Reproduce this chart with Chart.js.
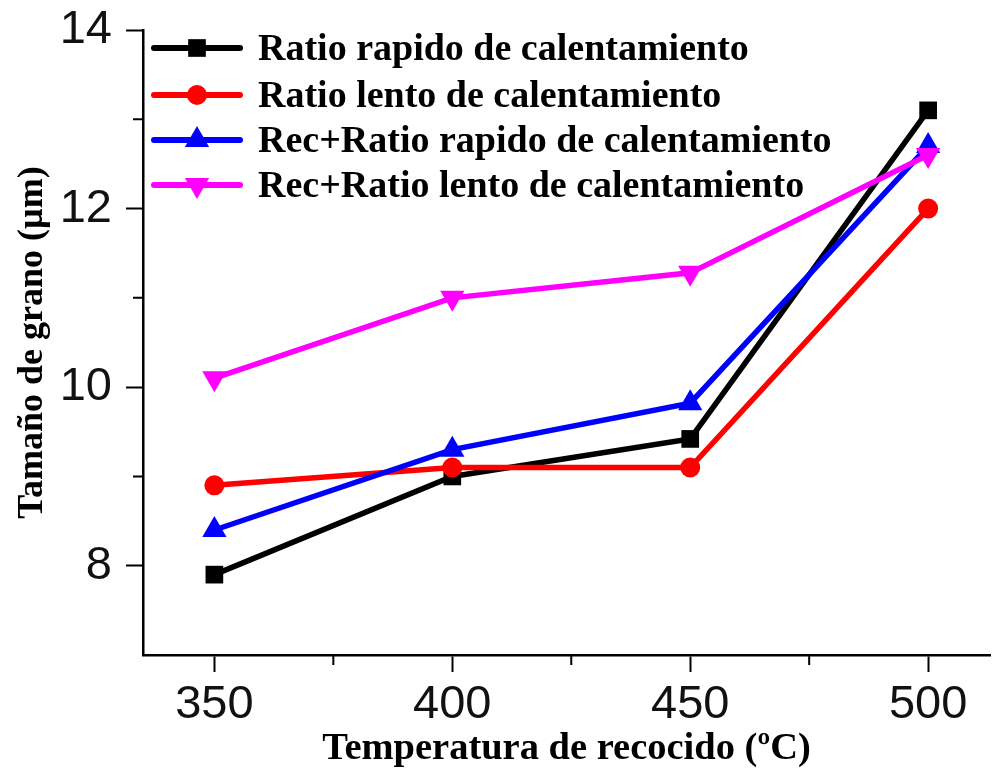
<!DOCTYPE html>
<html>
<head>
<meta charset="utf-8">
<script src="https://cdn.jsdelivr.net/npm/chart.js@4.4.0/dist/chart.umd.min.js"></script>
<style>
  html, body { margin: 0; padding: 0; background: #fff; }
  #chart { display: block; }
</style>
</head>
<body>
<canvas id="chart" width="992" height="774"></canvas>
<script>
"use strict";

// datos
const temps = [350, 400, 450, 500];
const rapido = [7.9, 9.0, 9.42, 13.1];
const lento = [8.9, 9.1, 9.1, 12.0];
const recRapido = [8.4, 9.3, 9.82, 12.7];
const recLento = [10.1, 11.0, 11.28, 12.6];

const seriesNames = [
    'Ratio rapido de calentamiento',
    'Ratio lento de calentamiento',
    'Rec+Ratio rapido de calentamiento',
    'Rec+Ratio lento de calentamiento'
];

const xTicks = [350, 400, 450, 500];
const xMinor = [375, 425, 475];
const yTicks = [8, 10, 12, 14];
const yMinor = [9, 11, 13];

const serif = '"Liberation Serif", "Times New Roman", serif';
const sans = '"Liberation Sans", Arial, sans-serif';

function pts(vals) {
    return temps.map(function (t, i) { return { x: t, y: vals[i] }; });
}

const styles = [
    { color: '#000000', pointStyle: 'rect', radius: 12.5, rotation: 0 },
    { color: '#ff0000', pointStyle: 'circle', radius: 10, rotation: 0 },
    { color: '#0000ff', pointStyle: 'triangle', radius: 14, rotation: 0 },
    { color: '#ff00ff', pointStyle: 'triangle', radius: 14, rotation: 180 }
];
const values = [rapido, lento, recRapido, recLento];

var datasets = values.map(function (v, i) {
    const s = styles[i];
    return {
        label: seriesNames[i],
        data: pts(v),
        borderColor: s.color,
        backgroundColor: s.color,
        borderWidth: 5.5,
        pointStyle: s.pointStyle,
        pointRadius: s.radius,
        pointRotation: s.rotation,
        pointBorderWidth: 0,
        pointBackgroundColor: s.color,
        order: values.length - i,
        tension: 0,
        clip: false
    };
});

// ticks menores + leyenda con linea y marcador
const extras = {
    id: 'extras',
    afterDraw: function (chart) {
        const ctx = chart.ctx;
        const xs = chart.scales.x, ys = chart.scales.y;
        ctx.save();
        ctx.strokeStyle = '#000';
        ctx.lineWidth = 2;
        ctx.beginPath();
        xMinor.forEach(function (v) {
            const px = xs.getPixelForValue(v);
            ctx.moveTo(px, xs.top);
            ctx.lineTo(px, xs.top + 10);
        });
        yMinor.forEach(function (v) {
            const py = ys.getPixelForValue(v);
            ctx.moveTo(ys.right, py);
            ctx.lineTo(ys.right - 10, py);
        });
        ctx.stroke();

        const rowY = [48, 95, 140, 185];
        ctx.font = 'bold 38px ' + serif;
        ctx.textBaseline = 'middle';
        ctx.textAlign = 'left';
        datasets.forEach(function (d, i) {
            const s = styles[i];
            const y = rowY[i];
            ctx.strokeStyle = s.color;
            ctx.fillStyle = s.color;
            ctx.lineWidth = 6;
            ctx.lineCap = 'round';
            ctx.beginPath();
            ctx.moveTo(154, y);
            ctx.lineTo(240, y);
            ctx.stroke();
            Chart.helpers.drawPoint(ctx, {
                pointStyle: s.pointStyle,
                radius: s.radius,
                rotation: s.rotation,
                borderWidth: 0
            }, 197, y);
            ctx.fillStyle = '#000';
            ctx.fillText(d.label, 258, y + 2);
        });
        ctx.restore();
    }
};

new Chart(document.getElementById('chart'), {
    type: 'line',
    data: { datasets: datasets },
    plugins: [extras],
    options: {
        responsive: false,
        animation: false,
        layout: { autoPadding: false, padding: { top: 30, right: 2, left: 0, bottom: 0 } },
        plugins: {
            legend: { display: false },
            tooltip: { enabled: false }
        },
        scales: {
            x: {
                type: 'linear',
                min: 335,
                max: 513,
                afterBuildTicks: function (s) {
                    s.ticks = xTicks.map(function (v) { return { value: v }; });
                },
                afterFit: function (s) {
                    s.height = 119;
                    s.paddingLeft = 0;
                    s.paddingRight = 0;
                },
                border: { display: true, color: '#000', width: 2.5 },
                grid: { drawOnChartArea: false, drawTicks: true, tickLength: 17, tickWidth: 2, tickColor: '#000' },
                ticks: {
                    color: '#111',
                    font: { family: sans, size: 47 },
                    padding: 5,
                    maxRotation: 0,
                    autoSkip: false
                },
                title: {
                    display: true,
                    text: 'Temperatura de recocido (ºC)',
                    color: '#000',
                    font: { family: serif, size: 38.5, weight: 'bold' },
                    padding: { top: 0, bottom: 2 }
                }
            },
            y: {
                type: 'linear',
                min: 7,
                max: 14,
                afterBuildTicks: function (s) {
                    s.ticks = yTicks.map(function (v) { return { value: v }; });
                },
                afterFit: function (s) {
                    s.width = 143;
                    s.paddingTop = 0;
                    s.paddingBottom = 0;
                },
                border: { display: true, color: '#000', width: 2.5 },
                grid: { drawOnChartArea: false, drawTicks: true, tickLength: 17, tickWidth: 2, tickColor: '#000' },
                ticks: {
                    color: '#111',
                    font: { family: sans, size: 47 },
                    padding: 14
                },
                title: {
                    display: true,
                    text: 'Tamaño de grano (µm)',
                    color: '#000',
                    font: { family: serif, size: 36, weight: 'bold' },
                    padding: { top: 11, bottom: 0 }
                }
            }
        }
    }
});
</script>
</body>
</html>
